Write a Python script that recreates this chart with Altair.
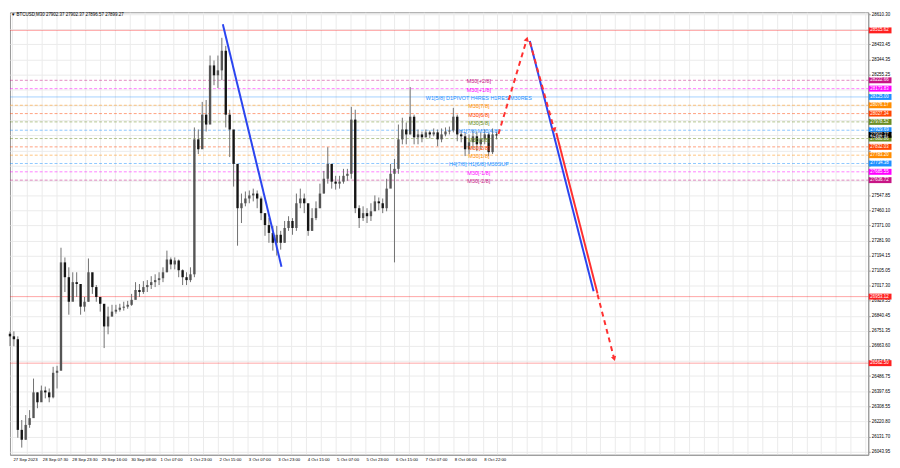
import altair as alt
import pandas as pd

# ---- candle data (M30 BTCUSD, aggregated) ----
closes = [26720, 26703, 26171, 26113, 26200, 26240, 26391, 26333, 26402, 26391,
          26362, 26506, 26518, 27154, 27067, 26923, 27038, 27027, 26894, 26923,
          27096, 27009, 26951, 26911, 26778, 26836, 26865, 26876, 26888, 26894,
          26905, 26934, 26992, 26980, 27009, 27021, 27038, 27050, 27061, 27096,
          27171, 27142, 27165, 27108, 27067, 27050, 27084, 27876, 27818, 28021,
          27963, 28310, 28252, 28281, 28396, 28021, 27934, 27732, 27472, 27501,
          27529, 27547, 27558, 27529, 27443, 27373, 27327, 27269, 27316, 27269,
          27356, 27397, 27356, 27501, 27529, 27501, 27339, 27414, 27472, 27558,
          27645, 27732, 27628, 27616, 27628, 27662, 27674, 27992, 27472, 27414,
          27443, 27425, 27454, 27512, 27501, 27472, 27587, 27674, 27703, 27876,
          27934, 27905, 28009, 27888, 27905, 27888, 27917, 27905, 27917, 27876,
          27905, 27922, 27928, 28009, 27905, 27894, 27818, 27859, 27894, 27847,
          27876, 27905, 27801, 27905, 27899]
highs = [26749, 26749, 26720, 26229, 26258, 26287, 26472, 26391, 26431, 26425,
         26414, 26541, 26547, 27240, 27183, 27125, 27096, 27096, 26980, 26951,
         27177, 27067, 27021, 26951, 26882, 26894, 26905, 26905, 26911, 26923,
         26928, 26969, 27038, 27027, 27044, 27050, 27073, 27084, 27096, 27125,
         27223, 27183, 27183, 27171, 27113, 27096, 27125, 27946, 27934, 28096,
         28107, 28368, 28339, 28368, 28472, 28425, 28050, 27847, 27587, 27558,
         27570, 27576, 27587, 27576, 27541, 27431, 27414, 27368, 27368, 27339,
         27397, 27425, 27414, 27558, 27587, 27558, 27443, 27472, 27512, 27616,
         27691, 27830, 27732, 27662, 27662, 27703, 27703, 28067, 28050, 27489,
         27483, 27472, 27501, 27547, 27535, 27529, 27645, 27732, 27761, 27963,
         28003, 27975, 28183, 28021, 27934, 27922, 27934, 27928, 27940, 27934,
         27940, 27946, 27951, 28061, 28021, 27928, 27917, 27905, 27928, 27922,
         27917, 27934, 27917, 27940, 27922]
lows = [26662, 26662, 26125, 26067, 26113, 26183, 26275, 26298, 26345, 26356,
        26333, 26356, 26414, 26547, 26980, 26847, 26980, 26951, 26847, 26865,
        26923, 26969, 26923, 26865, 26651, 26732, 26836, 26853, 26865, 26871,
        26882, 26899, 26940, 26951, 26969, 26980, 26998, 27009, 27021, 27038,
        27096, 27113, 27113, 27067, 27021, 27021, 27038, 27067, 27790, 27876,
        27922, 28165, 28194, 28177, 28223, 27946, 27772, 27599, 27252, 27385,
        27483, 27501, 27512, 27472, 27402, 27310, 27269, 27223, 27194, 27229,
        27269, 27339, 27316, 27339, 27472, 27443, 27310, 27339, 27402, 27472,
        27558, 27616, 27587, 27581, 27587, 27616, 27633, 27645, 27443, 27356,
        27397, 27385, 27397, 27472, 27460, 27443, 27454, 27605, 27154, 27674,
        27847, 27847, 27905, 27847, 27847, 27859, 27888, 27882, 27894, 27836,
        27859, 27894, 27905, 27917, 27865, 27859, 27778, 27790, 27818, 27807,
        27818, 27847, 27778, 27790, 27876]
first_open = 26735

# ---- axis labels ----
time_labels = ["27 Sep 2023", "28 Sep 07:30", "28 Sep 23:30", "29 Sep 16:00",
               "30 Sep 08:00", "1 Oct 07:00", "1 Oct 23:00", "2 Oct 15:00",
               "3 Oct 07:00", "3 Oct 23:00", "4 Oct 15:00", "5 Oct 07:00",
               "5 Oct 23:00", "6 Oct 15:00", "7 Oct 07:00", "8 Oct 06:00",
               "8 Oct 22:00"]
price_ticks = [28610.30, 28521.20, 28433.45, 28344.35, 28255.25, 28166.15,
               28077.05, 27988.30, 27899.20, 27810.10, 27722.35, 27633.25,
               27547.85, 27460.10, 27371.00, 27281.90, 27194.15, 27105.05,
               27017.30, 26929.55, 26840.45, 26751.35, 26663.60, 26574.50,
               26486.75, 26397.65, 26308.55, 26220.80, 26131.70, 26043.95]
hidden_ticks = [28521.20, 28166.15, 28077.05, 27988.30, 27899.20, 27810.10,
                27722.35, 27633.25]

# ---- Murrey levels ----
lvl_prices = [28515.62, 28222.66, 28173.83, 28125.00, 28076.17, 28027.34,
              27978.52, 27929.69, 27880.86, 27832.03, 27783.20, 27734.38,
              27685.55, 27636.72, 26953.12, 26562.50]
lvl_names = ["", "M30[+2/8]", "M30[+1/8]", "W1[5/8] D1PIVOT H4RES H1RES M30RES",
             "M30[7/8]", "M30[6/8]", "M30[5/8]", "H1[7/8] M30[4/8]", "M30[3/8]",
             "M30[2/8]", "M30[1/8]", "H4[7/8] H1[6/8] M30SUP", "M30[-1/8]",
             "M30[-2/8]", "", ""]
lvl_colors = ["#ff2020", "#c71585", "#ff00ff", "#1e90ff", "#ff8c00", "#ff4500",
              "#6b8e23", "#1e90ff", "#6b8e23", "#ff4500", "#ff8c00", "#1e90ff",
              "#ff00ff", "#c71585", "#ff2020", "#ff2020"]
lvl_solid = [True, False, False, True, False, False, False, False, False, False,
             False, False, False, False, True, True]
bid_price = 27902.37

# ---- drawn trend lines ----
seg_i0 = [54.25, 132.5, 139.25, 124.5, 132.5, 149.75]
seg_p0 = [28552, 28453, 27913, 27907, 28448, 26966]
seg_i1 = [69.2, 148.75, 149.75, 131.75, 138.75, 154.0]
seg_p1 = [27129, 26984, 26972, 28465, 27931, 26588]
seg_color = ["#2b45f0", "#2b45f0", "#ff3030", "#ff3030", "#ff3030", "#ff3030"]
seg_dashed = [False, False, False, True, True, True]

title_text = "\u25BC BTCUSD,M30  27902.37 27902.37 27896.57 27899.27"

# ------------------------------------------------------------------
W, H = 867, 447
FONT = "Liberation Sans"
opens = [first_open] + closes[:-1]
candles = pd.DataFrame({"i": list(range(len(closes))), "open": opens,
                        "high": highs, "low": lows, "close": closes})
candles["bull"] = candles["close"] >= candles["open"]

levels = pd.DataFrame({"p": lvl_prices, "name": lvl_names, "col": lvl_colors,
                       "solid": lvl_solid})
boxes = pd.DataFrame({"p": lvl_prices + [bid_price],
                      "col": lvl_colors + ["#000000"]})
boxes["txt"] = boxes["p"].map(lambda v: f"{v:.2f}")

segs = pd.DataFrame({"i": seg_i0, "p": seg_p0, "i2": seg_i1, "p2": seg_p1,
                     "col": seg_color, "dashed": seg_dashed})

xs = alt.Scale(domain=[0, 218.75], nice=False, zero=False)
ys = alt.Scale(domain=[26024.8, 28621.9], nice=False, zero=False)

lab_js = "[" + ",".join("'" + s + "'" for s in time_labels) + "]"
xaxis = alt.Axis(values=[0.5 + k * 3.75 for k in range(59)],
                 labelExpr=f"(round((datum.value - 0.5) / 3.75) % 2 == 0 && (datum.value - 0.5) / 7.5 < {len(time_labels)}) ? {lab_js}[round((datum.value - 0.5) / 7.5)] : ''",
                 labelAlign="left", labelFontSize=4.3, labelPadding=3, ticks=False,
                 labelColor="#000", gridColor="#ebebeb", domainColor="#999",
                 labelFont=FONT, labelOverlap=False, labelFlush=False, labelOffset=1)
hid_js = "[" + ",".join(str(v) for v in hidden_ticks) + "]"
yaxis = alt.Axis(orient="right", values=price_ticks,
                 labelExpr=f"indexof({hid_js}, datum.value) >= 0 ? '' : format(datum.value, '.2f')",
                 labelFontSize=4.5, labelPadding=1, tickSize=2, tickColor="#999",
                 labelColor="#000", gridColor="#ebebeb", domainColor="#999",
                 labelFont=FONT, labelOverlap=False, labelFlush=False)

X = alt.X("i:Q", scale=xs, axis=xaxis, title=None)
Y = alt.Y("p:Q", scale=ys, axis=yaxis, title=None)

base_lv = alt.Chart(levels)
lines_solid = base_lv.transform_filter("datum.solid").mark_rule(
    strokeWidth=1, opacity=0.4).encode(
    x=alt.value(0), x2=alt.value(W), y=Y, color=alt.Color("col:N", scale=None))
lines_dot = base_lv.transform_filter("!datum.solid").mark_rule(
    strokeWidth=1, opacity=0.5, strokeDash=[3, 2]).encode(
    x=alt.value(0), x2=alt.value(W), y=Y, color=alt.Color("col:N", scale=None))
lvl_text = base_lv.transform_filter("datum.name != ''").transform_calculate(
    i="119.5").mark_text(fontSize=5.5, font=FONT, baseline="middle", dy=1).encode(
    x=X, y=Y, text="name:N", color=alt.Color("col:N", scale=None))

base_c = alt.Chart(candles)
wick = base_c.transform_calculate(p="datum.low").mark_rule(
    strokeWidth=1, color="#707070").encode(x=X, y=Y, y2="high:Q")
body = base_c.transform_calculate(p="datum.open").mark_rule(strokeWidth=2.4).encode(
    x=X, y=Y, y2="close:Q",
    color=alt.condition("datum.bull", alt.value("#555555"), alt.value("#151515")))

base_s = alt.Chart(segs)
seg_solid = base_s.transform_filter("!datum.dashed").mark_rule(strokeWidth=2).encode(
    x=X, y=Y, x2="i2:Q", y2="p2:Q", color=alt.Color("col:N", scale=None))
seg_dash = base_s.transform_filter("datum.dashed").mark_rule(
    strokeWidth=2, strokeDash=[5, 4]).encode(
    x=X, y=Y, x2="i2:Q", y2="p2:Q", color=alt.Color("col:N", scale=None))
arrows = base_s.transform_filter("datum.dashed").transform_calculate(
    ang="datum.p2 > datum.p ? 17 : 164", i="datum.i2", p="datum.p2").mark_point(
    shape="triangle-up", filled=True, size=30, opacity=1).encode(
    x=X, y=Y, angle=alt.Angle("ang:Q", scale=None),
    color=alt.Color("col:N", scale=None))

base_b = alt.Chart(boxes)
box_rect = base_b.mark_tick(orient="horizontal", thickness=6, size=23, opacity=1).encode(
    x=alt.value(W + 12), y=Y, color=alt.Color("col:N", scale=None))
box_text = base_b.mark_text(fontSize=4.5, font=FONT, align="left",
                            baseline="middle", color="white").encode(
    x=alt.value(W + 2), y=Y, text="txt:N")

title = alt.Chart(pd.DataFrame({"t": [title_text]})).mark_text(
    fontSize=4.5, font=FONT, align="left", baseline="middle",
    color="#000").encode(x=alt.value(1), y=alt.value(3), text="t:N")

chart = alt.layer(lines_solid, lines_dot, wick, body, lvl_text, seg_solid, seg_dash,
                  arrows, box_rect, box_text, title).properties(
    width=W, height=H, padding=0, background="white"
).configure_view(stroke="#999", strokeWidth=1)

chart.save("out.html", embed_options={"renderer": "svg", "actions": False})
